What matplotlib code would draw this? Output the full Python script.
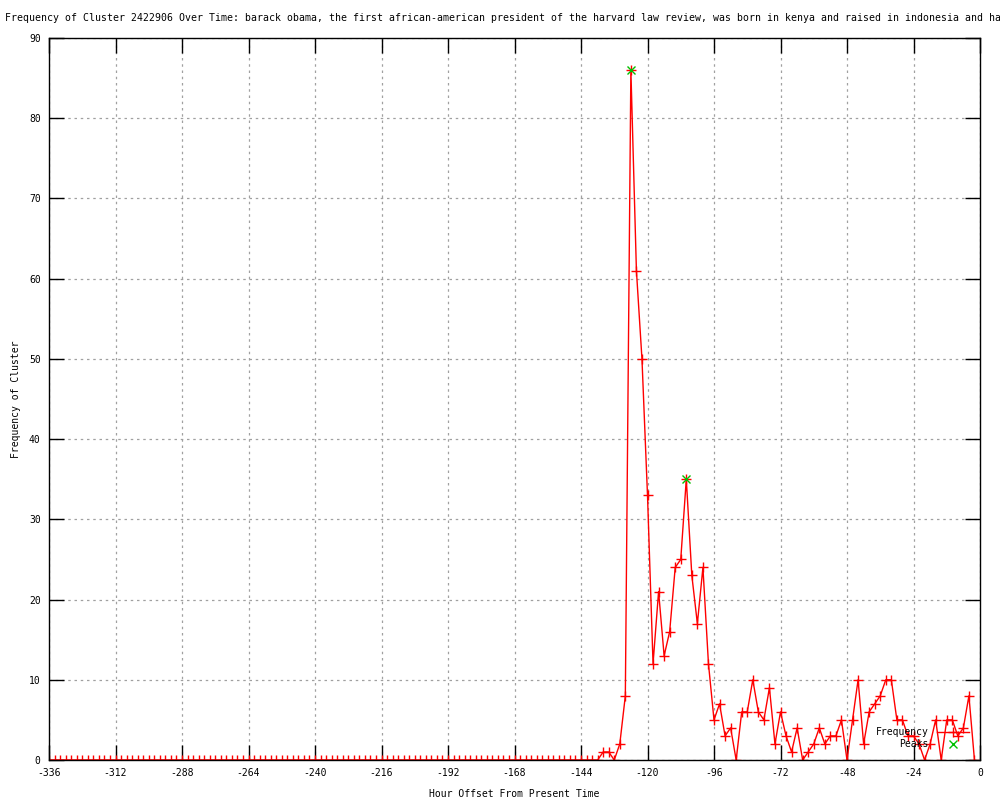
import matplotlib
matplotlib.use("Agg")
import matplotlib.pyplot as plt
import numpy as np

# hours (every 2 hours, -336 .. -2) and cluster frequency
hours = np.arange(-336, 0, 2)
freq = [0] * 100 + [
    1, 1, 0, 2, 8, 86, 61, 50, 33, 12,
    21, 13, 16, 24, 25, 35, 23, 17, 24, 12,
    5, 7, 3, 4, 0, 6, 6, 10, 6, 5,
    9, 2, 6, 3, 1, 4, 0, 1, 2, 4,
    2, 3, 3, 5, 0, 5, 10, 2, 6, 7,
    8, 10, 10, 5, 5, 3, 3, 2, 0, 2,
    5, 0, 5, 5, 3, 4, 8, 0,
]
peak_hours = [-126, -106]
peak_freq = [86, 35]

x_ticks = list(range(-336, 1, 24))
y_ticks = list(range(0, 91, 10))

title = ("Frequency of Cluster 2422906 Over Time: barack obama, the first "
         "african-american president of the harvard law review, was born in "
         "kenya and raised in indonesia and ha")

plt.rcParams['font.family'] = ['DejaVu Sans Mono']
plt.rcParams['font.size'] = 7
plt.rcParams['axes.unicode_minus'] = False

fig = plt.figure(figsize=(10, 8), dpi=100)
ax = fig.add_axes([0.049, 0.05, 0.931, 0.9025])

ax.plot(hours, freq, color='#ff0000', lw=1, marker='+', ms=6.5, mew=1,
        label='Frequency')
ax.plot(peak_hours, peak_freq, linestyle='none', color='#00c000',
        marker='x', ms=5.5, mew=1, label='Peaks')

ax.set_xlim(-336, 0)
ax.set_ylim(0, 90)
ax.set_xticks(x_ticks)
ax.set_yticks(y_ticks)
ax.tick_params(direction='in', length=11, width=1, top=True, right=True,
               labelsize=7, pad=6)
ax.grid(True, color='#a0a0a0', linestyle=(0, (2, 3)), linewidth=0.9)
for s in ax.spines.values():
    s.set_linewidth(1)
    s.set_color('black')

ax.set_xlabel("Hour Offset From Present Time", fontsize=7, labelpad=8)
ax.set_ylabel("Frequency of Cluster", fontsize=7, labelpad=6)
fig.text(0.005, 0.978, title, fontsize=7.15, ha='left', va='center')

ax.legend(loc='lower right', bbox_to_anchor=(0.993, 0.008), frameon=False,
          markerfirst=False, handlelength=3.3, handletextpad=0.8,
          labelspacing=0.25, borderpad=0, fontsize=7)

fig.savefig("out.png", dpi=100)
